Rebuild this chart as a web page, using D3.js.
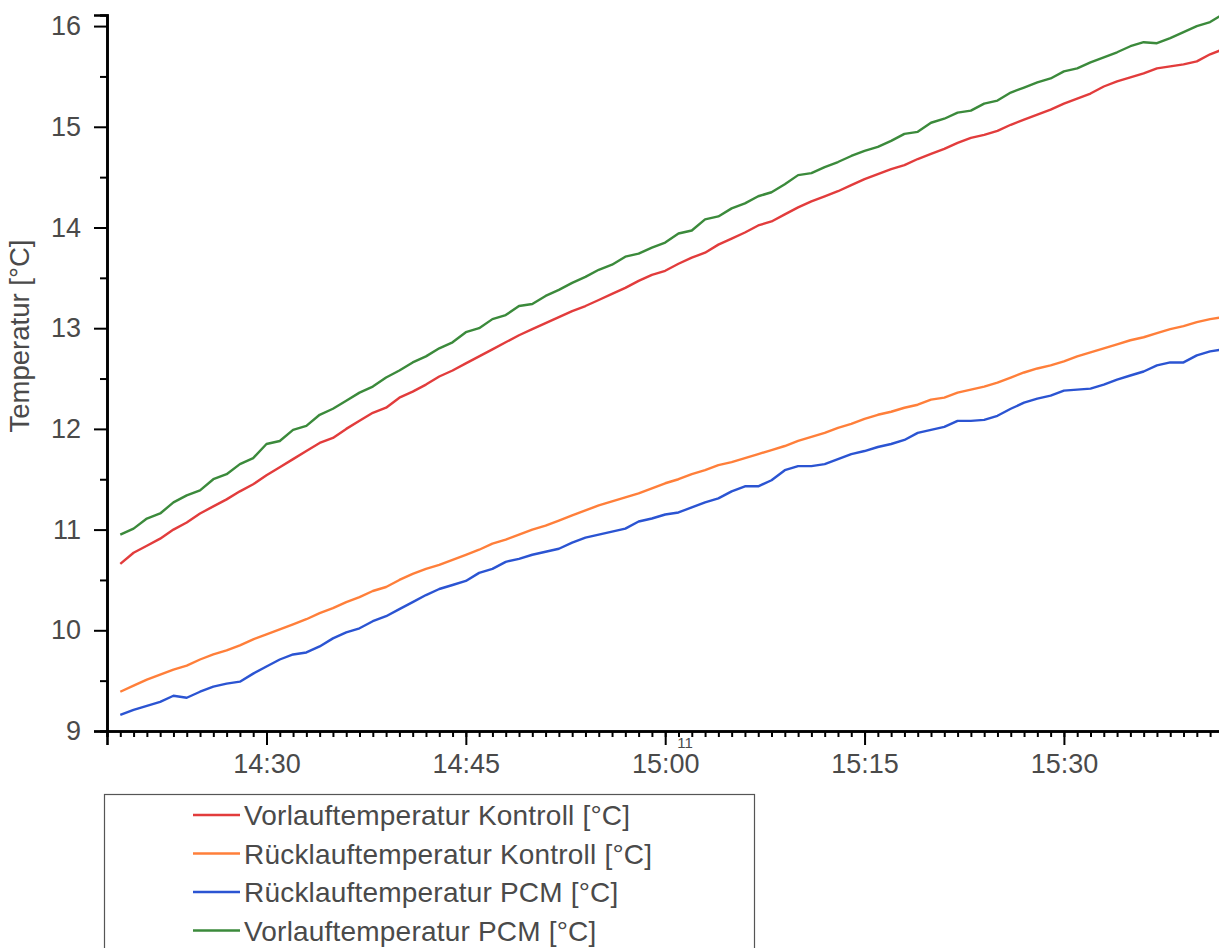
<!DOCTYPE html>
<html>
<head>
<meta charset="utf-8">
<script src="https://cdn.jsdelivr.net/npm/d3@7"></script>
<style>
    body { margin: 0; background: #fff; }
    svg { display: block; }
    text { font-family: "Liberation Sans", Arial, sans-serif; fill: #4a4a4a; }
</style>
</head>
<body>
<div id="chart"></div>
<script>
// time stamps (one per minute)
var times = ["14:19","14:20","14:21","14:22","14:23","14:24","14:25","14:26","14:27","14:28",
    "14:29","14:30","14:31","14:32","14:33","14:34","14:35","14:36","14:37","14:38",
    "14:39","14:40","14:41","14:42","14:43","14:44","14:45","14:46","14:47","14:48",
    "14:49","14:50","14:51","14:52","14:53","14:54","14:55","14:56","14:57","14:58",
    "14:59","15:00","15:01","15:02","15:03","15:04","15:05","15:06","15:07","15:08",
    "15:09","15:10","15:11","15:12","15:13","15:14","15:15","15:16","15:17","15:18",
    "15:19","15:20","15:21","15:22","15:23","15:24","15:25","15:26","15:27","15:28",
    "15:29","15:30","15:31","15:32","15:33","15:34","15:35","15:36","15:37","15:38",
    "15:39","15:40","15:41","15:42"];

var vorlaufKontroll = [10.66,10.77,10.84,10.91,11.00,11.07,11.16,11.23,11.30,11.38,
    11.45,11.54,11.62,11.70,11.78,11.86,11.91,12.00,12.08,12.16,
    12.21,12.31,12.37,12.44,12.52,12.58,12.65,12.72,12.79,12.86,
    12.93,12.99,13.05,13.11,13.17,13.22,13.28,13.34,13.40,13.47,
    13.53,13.57,13.64,13.70,13.75,13.83,13.89,13.95,14.02,14.06,
    14.13,14.20,14.26,14.31,14.36,14.42,14.48,14.53,14.58,14.62,
    14.68,14.73,14.78,14.84,14.89,14.92,14.96,15.02,15.07,15.12,
    15.17,15.23,15.28,15.33,15.40,15.45,15.49,15.53,15.58,15.60,
    15.62,15.65,15.72,15.77];

var ruecklaufKontroll = [9.39,9.45,9.51,9.56,9.61,9.65,9.71,9.76,9.80,9.85,
    9.91,9.96,10.01,10.06,10.11,10.17,10.22,10.28,10.33,10.39,
    10.43,10.50,10.56,10.61,10.65,10.70,10.75,10.80,10.86,10.90,
    10.95,11.00,11.04,11.09,11.14,11.19,11.24,11.28,11.32,11.36,
    11.41,11.46,11.50,11.55,11.59,11.64,11.67,11.71,11.75,11.79,
    11.83,11.88,11.92,11.96,12.01,12.05,12.10,12.14,12.17,12.21,
    12.24,12.29,12.31,12.36,12.39,12.42,12.46,12.51,12.56,12.60,
    12.63,12.67,12.72,12.76,12.80,12.84,12.88,12.91,12.95,12.99,
    13.02,13.06,13.09,13.11];

var ruecklaufPCM = [9.16,9.21,9.25,9.29,9.35,9.33,9.39,9.44,9.47,9.49,
    9.57,9.64,9.71,9.76,9.78,9.84,9.92,9.98,10.02,10.09,
    10.14,10.21,10.28,10.35,10.41,10.45,10.49,10.57,10.61,10.68,
    10.71,10.75,10.78,10.81,10.87,10.92,10.95,10.98,11.01,11.08,
    11.11,11.15,11.17,11.22,11.27,11.31,11.38,11.43,11.43,11.49,
    11.59,11.63,11.63,11.65,11.70,11.75,11.78,11.82,11.85,11.89,
    11.96,11.99,12.02,12.08,12.08,12.09,12.13,12.20,12.26,12.30,
    12.33,12.38,12.39,12.40,12.44,12.49,12.53,12.57,12.63,12.66,
    12.66,12.73,12.77,12.79];

var vorlaufPCM = [10.95,11.01,11.11,11.16,11.27,11.34,11.39,11.50,11.55,11.65,
    11.71,11.85,11.88,11.99,12.03,12.14,12.20,12.28,12.36,12.42,
    12.51,12.58,12.66,12.72,12.80,12.86,12.96,13.00,13.09,13.13,
    13.22,13.24,13.32,13.38,13.45,13.51,13.58,13.63,13.71,13.74,
    13.80,13.85,13.94,13.97,14.08,14.11,14.19,14.24,14.31,14.35,
    14.43,14.52,14.54,14.60,14.65,14.71,14.76,14.80,14.86,14.93,
    14.95,15.04,15.08,15.14,15.16,15.23,15.26,15.34,15.39,15.44,
    15.48,15.55,15.58,15.64,15.69,15.74,15.80,15.84,15.83,15.88,
    15.94,16.00,16.04,16.12];

var seriesNames = ["Vorlauftemperatur Kontroll [°C]", "Rücklauftemperatur Kontroll [°C]",
    "Rücklauftemperatur PCM [°C]", "Vorlauftemperatur PCM [°C]"];
var seriesColors = ["#e23c3c", "#ff7f3a", "#2b54d2", "#3b8a3b"];
var seriesValues = [vorlaufKontroll, ruecklaufKontroll, ruecklaufPCM, vorlaufPCM];

var yTicks = [9, 10, 11, 12, 13, 14, 15, 16];

var W = 1219, H = 948;
var margin = { left: 107, top: 15, bottom: 217 };

var parseTime = d3.timeParse("%H:%M");

var svg = d3.select("#chart")
    .append("svg")
        .attr("width", W)
        .attr("height", H);

var x = d3.scaleTime()
    .domain([parseTime("14:18"), parseTime("15:42")])
    .range([margin.left, 1223.4]);

var y = d3.scaleLinear()
    .domain([9, 16.11])
    .range([H - margin.bottom, margin.top]);

var y0 = y(9);

svg.append("clipPath")
    .attr("id", "plot-clip")
    .append("rect")
        .attr("x", margin.left)
        .attr("y", 0)
        .attr("width", W - margin.left)
        .attr("height", y0);

// lines
var line = d3.line()
    .x(function(d){ return x(d.t); })
    .y(function(d){ return y(d.v); });

var lineG = svg.append("g").attr("clip-path", "url(#plot-clip)");
seriesValues.forEach(function(vals, i){
    var data = times.map(function(t, j){ return { t: parseTime(t), v: vals[j] }; });
    lineG.append("path")
        .datum(data)
        .attr("fill", "none")
        .attr("stroke", seriesColors[i])
        .attr("stroke-width", 2.4)
        .attr("stroke-linejoin", "round")
        .attr("d", line);
});

// y axis, minor ticks at half degrees
var yMinor = svg.append("g")
    .attr("transform", "translate(" + margin.left + ",0)")
    .call(d3.axisLeft(y).tickValues([9.5, 10.5, 11.5, 12.5, 13.5, 14.5, 15.5]).tickSize(7).tickFormat(""));
var yAxis = svg.append("g")
    .attr("transform", "translate(" + margin.left + ",0)")
    .call(d3.axisLeft(y).tickValues(yTicks).tickSize(13).tickPadding(13).tickFormat(d3.format("d")));

// x axis, minor ticks each minute
var xMinor = svg.append("g")
    .attr("transform", "translate(0," + y0 + ")")
    .call(d3.axisBottom(x).ticks(d3.timeMinute.every(1)).tickSize(6).tickFormat(""));
var xAxis = svg.append("g")
    .attr("transform", "translate(0," + y0 + ")")
    .call(d3.axisBottom(x).ticks(d3.timeMinute.every(15)).tickSize(14).tickPadding(9)
        .tickFormat(d3.timeFormat("%H:%M")));

[yMinor, yAxis, xMinor, xAxis].forEach(function(g){
    g.selectAll(".domain").attr("stroke", "#000").attr("stroke-width", 2.6);
    g.selectAll(".tick line").attr("stroke", "#000").attr("stroke-width", 2);
    g.selectAll(".tick text")
        .attr("fill", "#4a4a4a")
        .attr("font-size", "27px")
        .attr("font-family", "Liberation Sans, Arial, sans-serif");
});
xAxis.selectAll(".tick").filter(function(d){ return x(d) < margin.left + 5; }).remove();
xMinor.selectAll(".tick").filter(function(d){ return x(d) < margin.left + 5; }).remove();

// stray label under the 15:00 tick
svg.append("text")
    .attr("x", 685)
    .attr("y", 748)
    .attr("text-anchor", "middle")
    .attr("font-size", "15px")
    .text("11");

// y axis title
svg.append("text")
    .attr("transform", "translate(29," + 336 + ") rotate(-90)")
    .attr("text-anchor", "middle")
    .attr("font-size", "27.5px")
    .text("Temperatur [°C]");

// legend
var legend = svg.append("g");
legend.append("rect")
    .attr("x", 104.5)
    .attr("y", 794.5)
    .attr("width", 650)
    .attr("height", 200)
    .attr("fill", "#fff")
    .attr("stroke", "#555")
    .attr("stroke-width", 1.2);

seriesNames.forEach(function(name, i){
    var ly = 815 + i * 38.5;
    legend.append("line")
        .attr("x1", 193).attr("x2", 240)
        .attr("y1", ly).attr("y2", ly)
        .attr("stroke", seriesColors[i])
        .attr("stroke-width", 2.4);
    legend.append("text")
        .attr("x", 244)
        .attr("y", ly)
        .attr("dy", "0.36em")
        .attr("font-size", "28px")
        .attr("letter-spacing", "0.2px")
        .text(name);
});
</script>
</body>
</html>
